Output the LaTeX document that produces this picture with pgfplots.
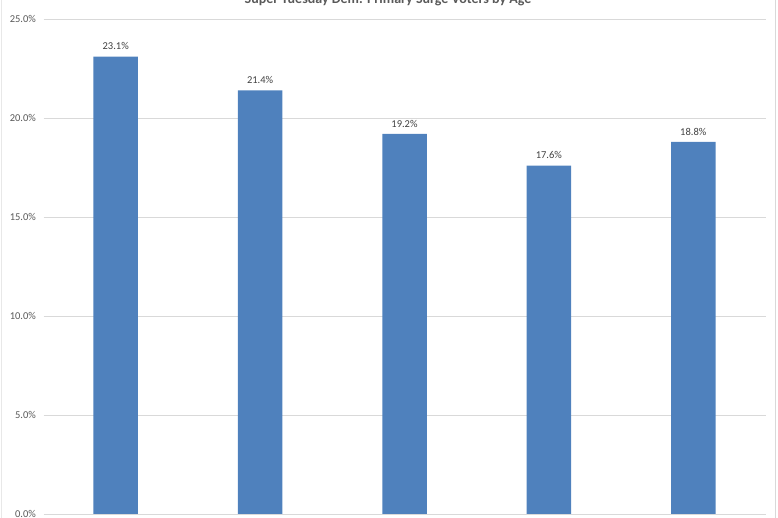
\documentclass[border=0pt]{standalone}
\usepackage{pgfplots}
\pgfplotsset{compat=1.18}
\usepackage{fontspec}
\setmainfont{Carlito}
\definecolor{barblue}{HTML}{4F81BD}
\definecolor{gridgray}{HTML}{D9D9D9}
\definecolor{ticktext}{HTML}{595959}
\definecolor{labtext}{HTML}{404040}
\begin{document}
\begin{tikzpicture}[x=1pt,y=1pt]
\begin{axis}[
  at={(43.5pt,4pt)}, anchor=south west,
  scale only axis, width=722pt, height=495pt,
  xmin=-0.5, xmax=4.5, ymin=0, ymax=25,
  ytick={0,5,10,15,20,25},
  yticklabels={0.0\%,5.0\%,10.0\%,15.0\%,20.0\%,25.0\%},
  xtick=\empty,
  ymajorgrids, grid style={gridgray, line width=0.8pt},
  axis line style={draw=none},
  axis x line*=bottom,
  major tick length=0pt,
  yticklabel style={font=\fontsize{10.5}{12}\selectfont, text=ticktext, xshift=-4pt},
  ybar, bar width=44.5pt,
  nodes near coords={\pgfmathprintnumber[fixed,fixed zerofill,precision=1]{\pgfplotspointmeta}\%},
  nodes near coords style={font=\fontsize{10.5}{12}\selectfont, text=labtext, yshift=3pt},
  /pgf/number format/assume math mode=true,
]
\addplot[fill=barblue, draw=none] coordinates {(0,23.1) (1,21.4) (2,19.2) (3,17.6) (4,18.8)};
\draw[gridgray, line width=0.8pt] (axis cs:-0.5,0) -- (axis cs:4.5,0);
\end{axis}
\node[anchor=base, font=\bfseries\fontsize{14}{16}\selectfont, text=ticktext] at (388pt,514pt) {Super Tuesday Dem. Primary Surge Voters by Age};
\draw[gridgray, line width=0.8pt] (775pt,0) -- (775pt,518pt);
\draw[gridgray!60, line width=0.6pt] (1.5pt,0) -- (1.5pt,518pt);
\pgfresetboundingbox
\useasboundingbox (0,0) rectangle (778pt,518pt);
\end{tikzpicture}
\end{document}
